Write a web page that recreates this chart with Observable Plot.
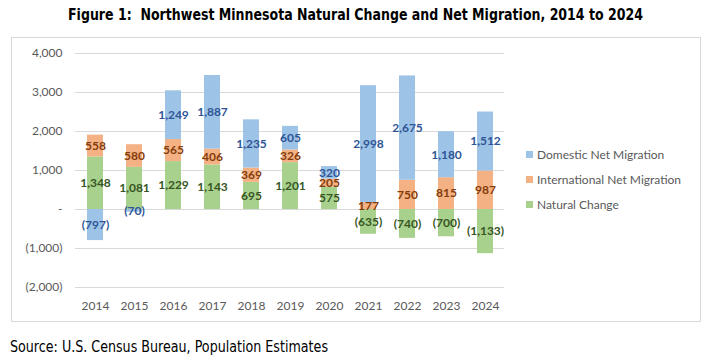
<!DOCTYPE html>
<html>
<head>
<meta charset="utf-8">
<script src="https://cdn.jsdelivr.net/npm/d3@7"></script>
<script src="https://cdn.jsdelivr.net/npm/@observablehq/plot@0.6"></script>
<style>
  html, body { margin: 0; padding: 0; background: #fff; }
  body { width: 710px; height: 360px; position: relative; overflow: hidden; }
  #title { position: absolute; left: 0; top: 0; }
  #box { position: absolute; left: 11px; top: 37px; width: 690px; height: 285px; border: 1px solid #d9d9d9; box-sizing: border-box; }
  #chart { position: absolute; left: 0; top: 36px; }
  #legend { position: absolute; left: 526px; top: 147px; font-family: Lato, sans-serif; font-size: 12px; color: #595959; }
  #legend .row { height: 25px; display: flex; align-items: flex-start; }
  #legend .sw { width: 7px; height: 7px; margin-top: 4px; margin-right: 4px; }
  #source { position: absolute; left: 0; top: 334px; }
</style>
</head>
<body>
<svg id="title" width="710" height="30"><text x="355.5" y="20" text-anchor="middle" textLength="575" lengthAdjust="spacingAndGlyphs" font-family="DejaVu Sans, sans-serif" font-weight="bold" font-size="15" fill="#000" xml:space="preserve">Figure 1:  Northwest Minnesota Natural Change and Net Migration, 2014 to 2024</text></svg>
<div id="box"></div>
<div id="chart"></div>
<div id="legend"></div>
<svg id="source" width="710" height="26"><text x="10" y="18" textLength="318" lengthAdjust="spacingAndGlyphs" font-family="DejaVu Sans, sans-serif" font-size="16" fill="#000">Source: U.S. Census Bureau, Population Estimates</text></svg>
<script>
const years = ["2014","2015","2016","2017","2018","2019","2020","2021","2022","2023","2024"];
const naturalChange = [1348, 1081, 1229, 1143, 695, 1201, 575, -635, -740, -700, -1133];
const internationalMigration = [558, 580, 565, 406, 369, 326, 205, 177, 750, 815, 987];
const domesticMigration = [-797, -70, 1249, 1887, 1235, 605, 320, 2998, 2675, 1180, 1512];
const seriesNames = ["Natural Change", "International Net Migration", "Domestic Net Migration"];
const barColors = ["#A9D18E", "#F4B183", "#9DC3E6"];
const labelColors = ["#375623", "#843C0C", "#2F5597"];
const yTicks = [-2000, -1000, 0, 1000, 2000, 3000, 4000];

const seriesValues = [naturalChange, internationalMigration, domesticMigration];
const data = [];
years.forEach((yr, i) => {
  seriesNames.forEach((s, j) => data.push({year: yr, series: s, value: seriesValues[j][i]}));
});

const fmt = v => v === 0 ? "-" : (v < 0 ? "(" + d3.format(",")(-v) + ")" : d3.format(",")(v));
const font = "Lato, sans-serif";

const stackOpts = {x: "year", y: "value", z: "series", order: seriesNames};

const plot = Plot.plot({
  width: 520,
  height: 286,
  marginLeft: 75,
  marginRight: 16,
  marginTop: 17,
  marginBottom: 35,
  style: {fontFamily: font, fontSize: "12px", background: "transparent"},
  x: {domain: years, paddingInner: 0.6, paddingOuter: 0.3, align: 0.5, label: null},
  y: {domain: [-2000, 4000], label: null},
  color: {domain: seriesNames, range: barColors},
  marks: [
    Plot.ruleY(yTicks, {stroke: "#d9d9d9", strokeWidth: 1}),
    Plot.axisY({ticks: yTicks, tickFormat: fmt, tickSize: 0, tickPadding: 13, fill: "#595959", fontSize: 12, label: null}),
    Plot.axisX({tickSize: 0, tickPadding: 14, fill: "#595959", fontSize: 12, label: null}),
    Plot.barY(data, Plot.stackY({...stackOpts, fill: "series"})),
    ...seriesNames.map((s, j) =>
      Plot.text(data, Plot.stackY({...stackOpts,
        text: d => d.series === s ? fmt(d.value) : null,
        fill: labelColors[j], fontWeight: "bold", fontSize: 12}))
    )
  ]
});
document.getElementById("chart").appendChild(plot);

const legend = document.getElementById("legend");
[2, 1, 0].forEach(j => {
  const row = document.createElement("div");
  row.className = "row";
  const sw = document.createElement("div");
  sw.className = "sw";
  sw.style.background = barColors[j];
  const t = document.createElement("span");
  t.textContent = seriesNames[j];
  row.appendChild(sw); row.appendChild(t);
  legend.appendChild(row);
});
</script>
</body>
</html>
